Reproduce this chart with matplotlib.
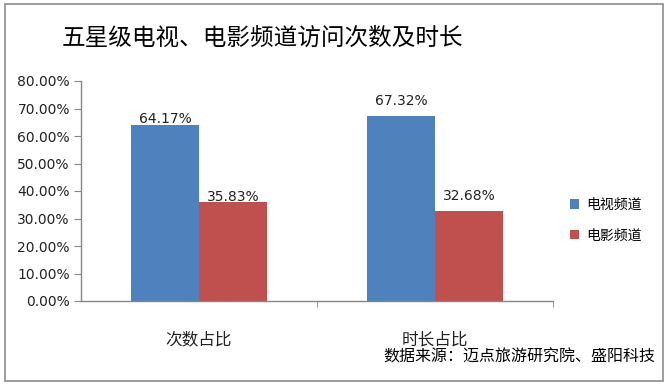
import matplotlib
matplotlib.use("Agg")
import matplotlib.pyplot as plt
from matplotlib.patches import Rectangle
import numpy as np

plt.rcParams['font.family'] = ['Noto Sans CJK SC', 'DejaVu Sans']

categories = ["次数占比", "时长占比"]
series_names = ["电视频道", "电影频道"]
tv_values = [64.17, 67.32]
movie_values = [35.83, 32.68]
yticks = [0, 10, 20, 30, 40, 50, 60, 70, 80]
colors = ["#4F81BD", "#C0504D"]
label_offsets = [-1, 6]  # points above bar top, per category

fig = plt.figure(figsize=(6.67, 3.86), dpi=100)
fig.patch.set_facecolor("white")
fig.patches.append(Rectangle((5/667, 1-381/386), 658/667, 377/386, transform=fig.transFigure,
                             fill=False, edgecolor="#8c8c8c", linewidth=1.2))

ax = fig.add_axes([81/667, 1-301/386, 472/667, 220/386])
x = np.arange(len(categories))
w = 0.288
b1 = ax.bar(x - w/2, tv_values, w, color=colors[0], label=series_names[0])
b2 = ax.bar(x + w/2, movie_values, w, color=colors[1], label=series_names[1])
for bars, vals in ((b1, tv_values), (b2, movie_values)):
    for i, (r, v) in enumerate(zip(bars, vals)):
        ax.annotate(f"{v:.2f}%", (r.get_x() + r.get_width()/2, v), xytext=(0, label_offsets[i]),
                    textcoords="offset points", ha="center", va="bottom",
                    fontsize=10, color="#222222", family=['DejaVu Sans'])

ax.set_xlim(-0.5, 1.5)
ax.set_ylim(0, 80)
ax.set_yticks(yticks)
ax.set_yticklabels([f"{t:.2f}%" for t in yticks], family=['DejaVu Sans'])
ax.set_xticks(x)
ax.set_xticklabels(categories)
ax.set_xticks([0.5, 1.5], minor=True)
ax.tick_params(axis='y', labelsize=10, colors="#868686", labelcolor="#222222", length=5, direction='out', pad=3)
ax.tick_params(axis='x', which='major', labelsize=12, length=0, pad=22, labelcolor="#222222")
ax.tick_params(axis='x', which='minor', length=4, color="#868686")
for s in ["top", "right"]:
    ax.spines[s].set_visible(False)
for s in ["left", "bottom"]:
    ax.spines[s].set_color("#868686")
    ax.spines[s].set_linewidth(1)

fig.text(262/667, 1-38/386, "五星级电视、电影频道访问次数及时长", ha="center", va="center",
         fontsize=17, color="black")

leg = fig.legend(handles=[b1, b2], labels=series_names, loc="center left",
                 bbox_to_anchor=(557/667, 1-220/386), frameon=False, fontsize=10,
                 handlelength=0.7, handleheight=0.7, labelspacing=1.2, handletextpad=0.5)

fig.text(655/667, 1-357/386, "数据来源：迈点旅游研究院、盛阳科技", ha="right", va="center",
         fontsize=11.5, color="black")

fig.savefig("out.png", dpi=100, facecolor="white")
